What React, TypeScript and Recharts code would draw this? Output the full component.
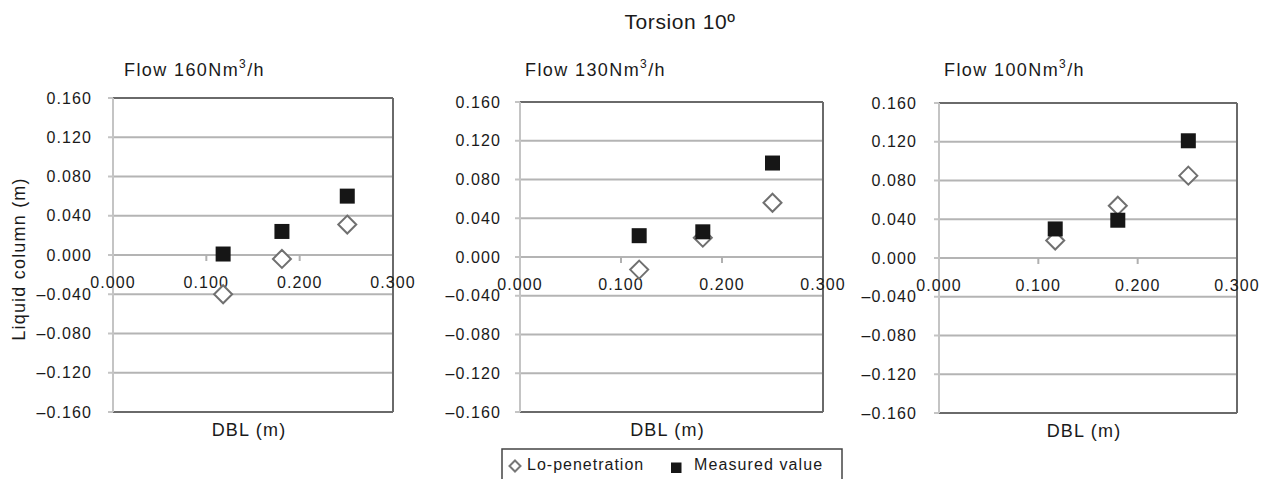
import { ScatterChart, Scatter, XAxis, YAxis, CartesianGrid, ReferenceLine, ReferenceDot } from "recharts";

const FONT = '"Liberation Sans", Arial, Helvetica, sans-serif';

// DBL (m) positions and liquid column (m) values
const dbl160 = [0.118, 0.181, 0.251];
const lo160 = [-0.04, -0.004, 0.031];
const meas160 = [0.001, 0.024, 0.06];

const dbl130 = [0.118, 0.181, 0.25];
const lo130 = [-0.013, 0.02, 0.056];
const meas130 = [0.022, 0.026, 0.097];

const dbl100 = [0.117, 0.18, 0.251];
const lo100 = [0.018, 0.054, 0.085];
const meas100 = [0.03, 0.039, 0.121];

const yTicks = [-0.16, -0.12, -0.08, -0.04, 0, 0.04, 0.08, 0.12, 0.16];
const xTicks = [0, 0.1, 0.2, 0.3];
const flows = ["160", "130", "100"];

const INK = "#1a1a1a";

const fmt = (v: number) => {
  const s = Math.abs(v).toFixed(3);
  return v < -1e-9 ? "\u2013" + s : s;
};

const toPoints = (xs: number[], ys: number[]) => xs.map((x, i) => ({ x, y: ys[i] }));

const Diamond = (props: any) => {
  const { cx, cy } = props;
  const h = 9;
  return (
    <path
      d={`M${cx},${cy - h}L${cx + h},${cy}L${cx},${cy + h}L${cx - h},${cy}Z`}
      fill="#fff"
      stroke="#707070"
      strokeWidth={2}
    />
  );
};

const Square = (props: any) => {
  const { cx, cy } = props;
  return <rect x={cx - 7.5} y={cy - 7.5} width={15} height={15} fill="#161616" />;
};

const XTickMark = (props: any) => {
  const { cx, cy, payload } = props;
  const v = payload;
  return (
    <g>
      {v > 0 && v < 0.3 && <line x1={cx} y1={cy} x2={cx} y2={cy + 6} stroke="#b0b0b0" strokeWidth={2} />}
      <text x={cx} y={cy + 33} textAnchor="middle" fontSize={16} letterSpacing={1.1} fill={INK} fontFamily={FONT}>
        {v.toFixed(3)}
      </text>
    </g>
  );
};

const XTitle = (props: any) => {
  const { cx, cy } = props;
  return (
    <text x={cx - 4} y={cy + 24} textAnchor="middle" fontSize={18} letterSpacing={1.2} fill={INK} fontFamily={FONT}>
      DBL (m)
    </text>
  );
};

interface PanelProps {
  left: number;
  width: number;
  yWidth: number;
  top: number;
  right: number;
  bottom: number;
  tickMargin: number;
  dbl: number[];
  lo: number[];
  meas: number[];
}

function Panel({ left, width, yWidth, top, right, bottom, tickMargin, dbl, lo, meas }: PanelProps) {
  return (
    <div style={{ position: "absolute", left, top: 0 }}>
      <ScatterChart width={width} height={479} margin={{ top, right, bottom, left: 0 }}>
        <CartesianGrid vertical={false} stroke="#b4b4b4" strokeWidth={2} />
        <XAxis type="number" dataKey="x" domain={[0, 0.3]} hide />
        <YAxis
          type="number"
          dataKey="y"
          domain={[-0.16, 0.16]}
          ticks={yTicks}
          width={yWidth}
          tickFormatter={fmt}
          tickSize={5}
          tickMargin={tickMargin}
          axisLine={{ stroke: "#c4c4c4", strokeWidth: 2 }}
          tickLine={{ stroke: "#c4c4c4", strokeWidth: 2 }}
          tick={{ fontSize: 16, fill: INK, fontFamily: FONT, letterSpacing: 1.1 }}
          interval={0}
        />
        <ReferenceLine y={0.16} stroke="#6a6a6a" strokeWidth={2} />
        <ReferenceLine y={-0.16} stroke="#6a6a6a" strokeWidth={2} />
        <ReferenceLine x={0.3} stroke="#6a6a6a" strokeWidth={2} />
        {xTicks.map((t) => (
          <ReferenceDot key={t} x={t} y={0} r={0} shape={(p: any) => <XTickMark {...p} payload={t} />} />
        ))}
        <ReferenceDot x={0.15} y={-0.16} r={0} shape={(p: any) => <XTitle {...p} />} />
        <Scatter name="Lo-penetration" data={toPoints(dbl, lo)} shape={Diamond} isAnimationActive={false} />
        <Scatter name="Measured value" data={toPoints(dbl, meas)} shape={Square} isAnimationActive={false} />
      </ScatterChart>
    </div>
  );
}

export default function App() {
  const titleX = [124, 525, 944];
  return (
    <div style={{ position: "absolute", left: 0, top: 0, width: 1266, height: 479, background: "#fff", overflow: "hidden" }}>
      <Panel left={0} width={440} yWidth={113} top={98} right={47} bottom={67} tickMargin={16} dbl={dbl160} lo={lo160} meas={meas160} />
      <Panel left={420} width={450} yWidth={100} top={102} right={47} bottom={67} tickMargin={14} dbl={dbl130} lo={lo130} meas={meas130} />
      <Panel left={840} width={426} yWidth={99} top={103} right={29} bottom={66} tickMargin={17} dbl={dbl100} lo={lo100} meas={meas100} />
      <svg width={1266} height={479} style={{ position: "absolute", left: 0, top: 0, pointerEvents: "none" }} fontFamily={FONT}>
        <text x={680} y={29} textAnchor="middle" fontSize={21} letterSpacing={0.6} fill={INK}>
          Torsion 10º
        </text>
        {flows.map((f, i) => (
          <text key={f} x={titleX[i]} y={76} fontSize={18} letterSpacing={1.4} fill={INK}>
            Flow {f}Nm
            <tspan fontSize={12} dy={-8}>3</tspan>
            <tspan dy={8}>/h</tspan>
          </text>
        ))}
        <text x={25} y={259} transform="rotate(-90 25 259)" textAnchor="middle" fontSize={18} letterSpacing={1.2} fill={INK}>
          Liquid column (m)
        </text>
        <rect x={502} y={449} width={340} height={50} fill="none" stroke="#444" strokeWidth={1.5} />
        <path d="M515,460.5L520.5,466L515,471.5L509.5,466Z" fill="#fff" stroke="#777" strokeWidth={2} />
        <text x={527} y={470} fontSize={16} letterSpacing={1} fill={INK}>
          Lo-penetration
        </text>
        <rect x={671} y={462.5} width={10.5} height={10.5} fill="#161616" />
        <text x={694} y={470} fontSize={16} letterSpacing={1.1} fill={INK}>
          Measured value
        </text>
      </svg>
    </div>
  );
}
